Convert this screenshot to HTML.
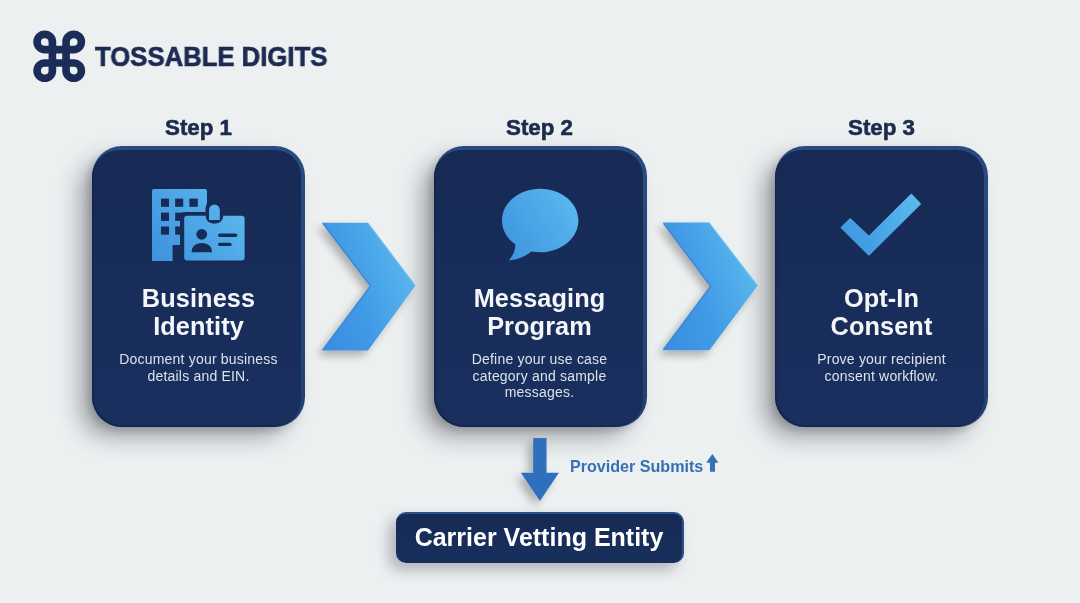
<!DOCTYPE html>
<html><head><meta charset="utf-8">
<style>
*{margin:0;padding:0;box-sizing:border-box}
html,body{width:1080px;height:603px;overflow:hidden;background:#edf0f1;font-family:"Liberation Sans",sans-serif}
.abs{position:absolute;will-change:transform}
.brand{left:95px;top:40.5px;font-size:27.8px;font-weight:bold;color:#1b2b52;white-space:nowrap;line-height:32px;transform-origin:0 0;transform:scaleX(0.925);-webkit-text-stroke:0.7px #1b2b52}
.step{font-size:22.3px;font-weight:bold;color:#1c2b4d;text-align:center;width:213px;line-height:26px;-webkit-text-stroke:0.6px #1c2b4d}
.card{width:213px;height:281px;border-radius:30px;background:linear-gradient(180deg,#2a4b80 0%,#27477a 50%,#223f70 100%);box-shadow:-14px 12px 24px -3px rgba(25,30,40,0.40),-4px 4px 8px -1px rgba(25,30,40,0.18)}
.card:after{content:'';position:absolute;left:0;top:3.5px;right:4.5px;bottom:0;border-radius:27px 26px 28px 30px;background:linear-gradient(180deg,#172a56 0%,#192f5d 100%);box-shadow:inset 1.2px -1.2px 1.2px rgba(6,14,36,0.3)}
.title{width:213px;text-align:center;color:#f4f6fa;font-weight:bold;font-size:25.3px;line-height:27.8px;letter-spacing:0.1px}
.desc{width:213px;text-align:center;color:#dde2ea;font-size:14px;line-height:16.6px;letter-spacing:0.2px}
.prov{left:569.5px;top:456px;font-size:16.1px;font-weight:bold;color:#3570b5;white-space:nowrap;line-height:20px}
.carrier{left:396px;top:511.5px;width:288px;height:51px;border-radius:10px;background:linear-gradient(180deg,#172a56 0%,#182f5c 100%);box-shadow:-7px 7px 14px rgba(20,30,50,0.28);border-top:2px solid #2b4f87;border-right:2px solid #2b4f87;color:#fff;font-weight:bold;font-size:25px;line-height:47px;text-align:center;white-space:nowrap}
</style></head><body>
<!-- logo -->
<svg class="abs" style="left:0;top:0" width="1080" height="603">
  <defs>
    <linearGradient id="ig" gradientUnits="userSpaceOnUse" x1="152" y1="261" x2="245" y2="189">
      <stop offset="0" stop-color="#3d91dd"/>
      <stop offset="1" stop-color="#5fbcef"/>
    </linearGradient>
    <linearGradient id="bg2" x1="0" y1="0.8" x2="1" y2="0.2">
      <stop offset="0" stop-color="#3e95df"/>
      <stop offset="1" stop-color="#5ab8ee"/>
    </linearGradient>
    <linearGradient id="chev" x1="0" y1="0.75" x2="1" y2="0.25">
      <stop offset="0" stop-color="#3a8fe2"/>
      <stop offset="0.4" stop-color="#429be6"/>
      <stop offset="1" stop-color="#5dbaef"/>
    </linearGradient>
  </defs>
  <path stroke="#1b2c58" stroke-width="7.65" fill="none" stroke-linejoin="miter" d="M52.4,41.95 A7.65,7.65 0 1 0 44.75,49.6 L73.70,49.6 A7.65,7.65 0 1 0 66.05,41.95 L66.05,70.65 A7.65,7.65 0 1 0 73.70,63.0 L44.75,63.0 A7.65,7.65 0 1 0 52.4,70.65 Z"/>
</svg>
<div class="abs brand">TOSSABLE DIGITS</div>

<div class="abs step" style="left:92px;top:115px">Step 1</div>
<div class="abs step" style="left:433px;top:115px">Step 2</div>
<div class="abs step" style="left:775px;top:115px">Step 3</div>

<div class="abs card" style="left:92px;top:146px"></div>
<div class="abs card" style="left:433.5px;top:146px"></div>
<div class="abs card" style="left:775px;top:146px"></div>

<!-- chevrons -->
<svg class="abs" style="left:0;top:0;overflow:visible" width="1080" height="603">
  <defs>
    <filter id="sh" x="-50%" y="-50%" width="200%" height="200%">
      <feGaussianBlur in="SourceAlpha" stdDeviation="4.5"/>
      <feOffset dx="-5" dy="5" result="b"/>
      <feComponentTransfer><feFuncA type="linear" slope="0.28"/></feComponentTransfer>
      <feMerge><feMergeNode/><feMergeNode in="SourceGraphic"/></feMerge>
    </filter>
  </defs>
  <polygon filter="url(#sh)" fill="url(#chev)" points="322,222.7 368,222.7 415.5,285.5 368,350.5 322,350.5 370.5,286"/>
  <polygon filter="url(#sh)" fill="url(#chev)" points="662.7,222.6 709.2,222.6 757.7,285.5 709.4,350.3 662.7,350.3 710.7,286.2"/>
  <polyline fill="none" stroke="#3283d3" stroke-width="1.6" stroke-opacity="0.8" points="322.8,223.2 370.5,286 322.8,350"/>
  <polyline fill="none" stroke="#3283d3" stroke-width="1.6" stroke-opacity="0.8" points="663.5,223.2 710.7,286.2 663.5,349.6"/>
  <polyline fill="none" stroke="#74c8f3" stroke-width="1.3" stroke-opacity="0.55" points="368.3,223.4 415,285.5"/>
  <polyline fill="none" stroke="#74c8f3" stroke-width="1.3" stroke-opacity="0.55" points="709.5,223.3 757.2,285.5"/>
  <!-- down arrow -->
  <polygon filter="url(#sh)" fill="#2f6fbd" points="533.2,438 546.5,438 546.5,472.8 558.9,472.8 539.9,501 520.9,472.8 533.2,472.8"/>
  <!-- up small arrow -->
  <polygon fill="#3570b5" points="710,471.7 715,471.7 715,462.8 718.4,462.8 712.3,453.9 706.2,462.8 710,462.8"/>
</svg>

<!-- icons -->
<svg class="abs" style="left:0;top:0" width="1080" height="603">
  <!-- building -->
  <path fill="url(#ig)" d="M152,191 Q152,189 154,189 L205,189 Q207,189 207,191 L207,261 L152,261 Z"/>
  <g fill="#172b57">
    <rect x="161" y="198.6" width="8" height="8.2"/>
    <rect x="175.2" y="198.6" width="8" height="8.2"/>
    <rect x="189.4" y="198.6" width="8.4" height="8.2"/>
    <rect x="161" y="212.6" width="8" height="8.3"/>
    <rect x="175.2" y="212.6" width="8" height="8.3"/>
    <rect x="161" y="226.5" width="8" height="8.2"/>
    <rect x="175.2" y="226.5" width="8" height="8.2"/>
    <rect x="172.6" y="245" width="10" height="17"/>
    <rect x="180" y="211.9" width="68" height="52" rx="5"/>
    <rect x="205.7" y="201" width="17.4" height="22.4" rx="7"/>
  </g>
  <rect x="184.2" y="215.8" width="60.4" height="44.8" rx="3" fill="url(#ig)"/>
  <g fill="#172b57">
    <rect x="205.7" y="201" width="17.4" height="22.4" rx="7"/>
  </g>
  <path fill="url(#ig)" d="M209,220 L209,210 A5.4,5.4 0 0 1 219.8,210 L219.8,220 Z"/>
  <g fill="#172b57">
    <circle cx="201.7" cy="234.3" r="5.4"/>
    <path d="M191.6,252.2 C191.6,246.5 195.5,243 201.8,243 C208.1,243 212,246.5 212,252.2 Z"/>
  </g>
  <g stroke="#172b57" stroke-width="3.4" stroke-linecap="round">
    <line x1="219.7" y1="235.2" x2="235.6" y2="235.2"/>
    <line x1="219.7" y1="244.4" x2="229.9" y2="244.4"/>
  </g>
  <!-- speech bubble -->
  <path fill="url(#bg2)" d="M540.2,188.8 C561.3,188.8 578.4,203 578.4,220.5 C578.4,238 561.3,252.3 540.2,252.3 C537,252.3 534,252 531.2,251.5 C526,256 517,260.3 508.6,260.3 C513,256 515.5,250 515.2,244.2 C507,238.5 502,230 502,220.5 C502,203 519.1,188.8 540.2,188.8 Z"/>
  <!-- checkmark -->
  <polygon fill="url(#bg2)" stroke="url(#bg2)" stroke-width="2" stroke-linejoin="round" points="841.63,227.61 850.21,219.28 868.92,236.89 911.47,194.83 919.91,203.87 868.90,254.59"/>
</svg>

<div class="abs title" style="left:92px;top:285px">Business<br>Identity</div>
<div class="abs title" style="left:433px;top:285px">Messaging<br>Program</div>
<div class="abs title" style="left:775px;top:285px">Opt-In<br>Consent</div>

<div class="abs desc" style="left:92px;top:351px">Document your business<br>details and EIN.</div>
<div class="abs desc" style="left:433px;top:351px">Define your use case<br>category and sample<br>messages.</div>
<div class="abs desc" style="left:775px;top:351px">Prove your recipient<br>consent workflow.</div>

<div class="abs prov">Provider Submits</div>
<div class="abs carrier">Carrier Vetting Entity</div>
</body></html>
